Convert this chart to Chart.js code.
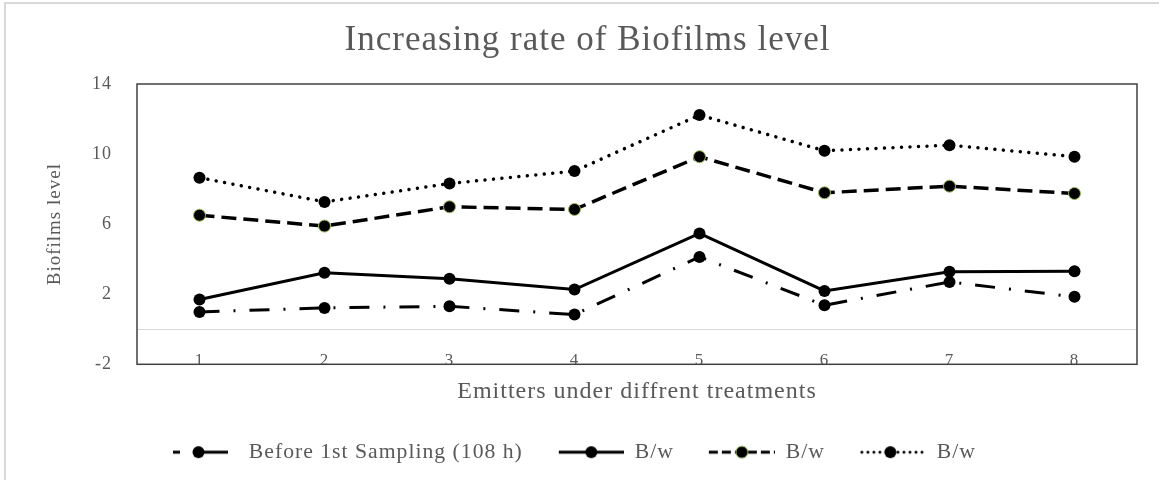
<!DOCTYPE html>
<html>
<head>
<meta charset="utf-8">
<script src="https://cdn.jsdelivr.net/npm/chart.js@4.4.1/dist/chart.umd.min.js"></script>
<style>
  html, body { margin: 0; padding: 0; background: #ffffff; }
  #wrap { width: 1159px; height: 480px; position: relative; }
</style>
</head>
<body>
<div id="wrap"><canvas id="c" width="1159" height="480"></canvas></div>
<script>
// ---- data ----
const categories = ['1', '2', '3', '4', '5', '6', '7', '8'];
const seriesNames = ['Before 1st Sampling (108 h)', 'B/w', 'B/w', 'B/w'];
const beforeSampling = [0.99, 1.22, 1.31, 0.84, 4.13, 1.37, 2.70, 1.85];
const bwSolid = [1.70, 3.22, 2.89, 2.27, 5.47, 2.19, 3.28, 3.31];
const bwDashed = [6.51, 5.89, 6.99, 6.84, 9.85, 7.79, 8.17, 7.75];
const bwDotted = [8.65, 7.27, 8.32, 9.03, 12.23, 10.19, 10.51, 9.85];
const yTickValues = [-2, 2, 6, 10, 14];
const chartTitle = 'Increasing rate of Biofilms level';
const xTitle = 'Emitters under diffrent treatments';
const yTitle = 'Biofilms level';

// ---- styles ----
const TEXT = '#595959';
const SERIF = '"Liberation Serif", "Times New Roman", serif';
const styles = [
  { dash: [20, 14, 2, 14], cap: 'butt', width: 3, pBorder: '#000000', pBorderW: 0 },
  { dash: [], cap: 'butt', width: 3, pBorder: '#000000', pBorderW: 0 },
  { dash: [15, 7], cap: 'butt', width: 3.5, pBorder: '#9bbb59', pBorderW: 1 },
  { dash: [0.01, 8.5], cap: 'round', width: 3.5, pBorder: '#000000', pBorderW: 0 }
];
const ICON_W = 82, ICON_H = 16;
// visible icon extents inside the legend icon box
const iconSpan = [[17, 72], [17, 82], [16, 82], [17, 82]];

function makeIcon(i) {
  const cv = document.createElement('canvas');
  cv.width = ICON_W; cv.height = ICON_H;
  const g = cv.getContext('2d');
  const s = styles[i];
  const [a, b] = iconSpan[i];
  const mid = (a + b) / 2, cy = ICON_H / 2;
  g.strokeStyle = '#000';
  g.lineWidth = 3;
  if (i === 0) {
    g.beginPath(); g.moveTo(a, cy); g.lineTo(a + 7, cy); g.stroke();
    g.beginPath(); g.moveTo(mid - 2, cy); g.lineTo(b, cy); g.stroke();
    g.beginPath(); g.arc(mid - 2, cy, 6, 0, Math.PI * 2);
  } else if (i === 1) {
    g.beginPath(); g.moveTo(a, cy); g.lineTo(b, cy); g.stroke();
    g.beginPath(); g.arc(mid, cy, 6, 0, Math.PI * 2);
  } else if (i === 2) {
    g.setLineDash([9, 4]);
    g.beginPath(); g.moveTo(a, cy); g.lineTo(b, cy); g.stroke();
    g.setLineDash([]);
    g.beginPath(); g.arc(mid, cy, 6, 0, Math.PI * 2);
  } else {
    g.lineCap = 'round';
    g.setLineDash([0.01, 6]);
    g.beginPath(); g.moveTo(a + 1, cy); g.lineTo(b - 2, cy); g.stroke();
    g.setLineDash([]);
    g.beginPath(); g.arc(mid - 3, cy, 6, 0, Math.PI * 2);
  }
  g.fillStyle = '#000';
  g.fill();
  if (s.pBorderW) { g.lineWidth = 1; g.strokeStyle = s.pBorder; g.stroke(); }
  return cv;
}
const icons = [0, 1, 2, 3].map(makeIcon);

const seriesData = [beforeSampling, bwSolid, bwDashed, bwDotted];
const datasets = seriesData.map((d, i) => ({
  label: seriesNames[i],
  data: d,
  borderColor: '#000000',
  backgroundColor: '#000000',
  borderWidth: styles[i].width,
  borderDash: styles[i].dash,
  borderCapStyle: styles[i].cap,
  pointRadius: 6,
  pointHoverRadius: 6,
  pointBackgroundColor: '#000000',
  pointBorderColor: styles[i].pBorder,
  pointBorderWidth: styles[i].pBorderW,
  tension: 0,
  fill: false
}));

const spacingPlugin = {
  id: 'spacing',
  beforeUpdate(chart) { chart.ctx.letterSpacing = '1px'; },
  beforeLayout(chart) { chart.ctx.letterSpacing = '1px'; },
  beforeDraw(chart) {
    const ctx = chart.ctx;
    ctx.letterSpacing = '1px';
    ctx.save();
    ctx.fillStyle = '#ffffff';
    ctx.fillRect(0, 0, chart.width, chart.height);
    ctx.strokeStyle = '#d9d9d9';
    ctx.lineWidth = 2;
    ctx.beginPath();
    ctx.moveTo(5, chart.height);
    ctx.lineTo(5, 3);
    ctx.lineTo(chart.width, 3);
    ctx.stroke();
    ctx.restore();
  }
};

const framePlugin = {
  id: 'frame',
  beforeDatasetsDraw(chart) {
    const { ctx, chartArea: a, scales } = chart;
    ctx.save();
    const y0 = scales.y.getPixelForValue(0);
    ctx.strokeStyle = '#d9d9d9';
    ctx.lineWidth = 1;
    ctx.beginPath();
    ctx.moveTo(a.left, Math.round(y0) + 0.5);
    ctx.lineTo(a.right, Math.round(y0) + 0.5);
    ctx.stroke();
    ctx.strokeStyle = '#404040';
    ctx.lineWidth = 1.5;
    ctx.strokeRect(a.left, a.top, a.right - a.left, a.bottom - a.top);
    ctx.restore();
  }
};

new Chart(document.getElementById('c'), {
  type: 'line',
  data: { labels: categories, datasets },
  plugins: [spacingPlugin, framePlugin],
  options: {
    responsive: false,
    animation: false,
    layout: { padding: { left: 38, right: 22, top: 0, bottom: 7 } },
    plugins: {
      title: {
        display: true,
        text: chartTitle,
        color: TEXT,
        font: { family: SERIF, size: 35, weight: 'normal' },
        padding: { top: 20, bottom: 22 }
      },
      legend: {
        position: 'bottom',
        align: 'start',
        fullSize: false,
        labels: {
          usePointStyle: true,
          pointStyleWidth: ICON_W,
          padding: 19,
          color: TEXT,
          font: { family: SERIF, size: 21.7 },
          generateLabels(chart) {
            return chart.data.datasets.map((ds, i) => ({
              text: ds.label,
              pointStyle: icons[i],
              fillStyle: '#000',
              strokeStyle: '#000',
              lineWidth: 0,
              hidden: false,
              datasetIndex: i,
              fontColor: TEXT
            }));
          }
        }
      },
      tooltip: { enabled: false }
    },
    scales: {
      x: {
        offset: true,
        grid: { display: false, drawTicks: false },
        border: { display: false },
        ticks: { color: TEXT, font: { family: SERIF, size: 17 }, mirror: true, padding: -6, maxRotation: 0 },
        title: {
          display: true,
          text: xTitle,
          color: TEXT,
          font: { family: SERIF, size: 24 },
          padding: { top: 0, bottom: 16 }
        },
        afterFit(s) { s.height = 58; }
      },
      y: {
        min: -2,
        max: 14,
        afterBuildTicks(s) { s.ticks = yTickValues.map(v => ({ value: v })); },
        grid: { display: false, drawTicks: false },
        border: { display: false },
        ticks: { color: TEXT, font: { family: SERIF, size: 18 }, padding: 25 },
        title: {
          display: true,
          text: yTitle,
          color: TEXT,
          font: { family: SERIF, size: 19 },
          padding: { top: 6, bottom: 0 }
        },
        afterFit(s) { s.width = 99; }
      }
    }
  }
});
</script>
</body>
</html>
